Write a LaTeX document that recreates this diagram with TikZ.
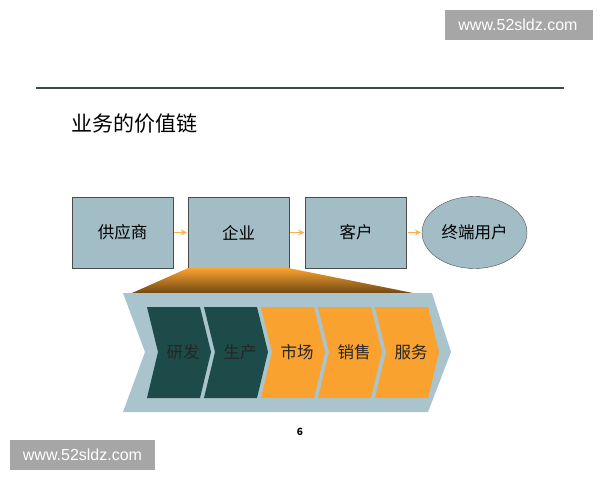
\documentclass[tikz,border=0pt]{standalone}
\usepackage{fontspec}
\setmainfont{Noto Sans CJK SC}
\newfontfamily\wmfont{Liberation Sans}
\usetikzlibrary{shapes.geometric}
\definecolor{boxblue}{HTML}{A3BDC7}
\definecolor{chevgray}{HTML}{A9C4CC}
\definecolor{darkteal}{HTML}{1C4B49}
\definecolor{chevorange}{HTML}{F9A22F}
\definecolor{rulegray}{HTML}{3B4A48}
\def\chevron[#1](#2,#3){\fill[#1] (#2,#3) -- ++(53,0) -- ++(11,45) -- ++(-11,46) -- ++(-53,0) -- ++(11,-46) -- cycle;}
\tikzset{
	chainbox/.style={draw=black!70, fill=boxblue, minimum width=101pt, minimum height=71pt, font=\fontsize{16.5}{16.5}\selectfont},
	chainarrow/.style={draw=chevorange!85!white, line width=1.6pt, -stealth, shorten <=1pt, shorten >=1pt},
	chevtext/.style={font=\fontsize{16.5}{16.5}\selectfont, text=black!85}
}

\begin{document}
\begin{tikzpicture}[x=1pt, y=-1pt]
				\useasboundingbox (0,0) rectangle (600,480);
				
				\fill[black!35] (445,10) rectangle (593,40);
				\node[text=white, font=\wmfont\fontsize{16}{16}\selectfont] (wmtop) at (518,25) {www.52sldz.com};
				
				\draw[rulegray, line width=1.5pt] (36,88) -- (564,88);
				\node[anchor=west, font=\fontsize{21}{21}\selectfont] (title) at (68,124) {业务的价值链};
				
				\node[chainbox] (supplier) at (122.5,232.5) {供应商};
				\node[chainbox] (firm) at (238.5,232.5) {企业};
				\node[chainbox] (customer) at (356,232.5) {客户};
				\node[chainbox, ellipse, minimum width=105pt, minimum height=72pt] (enduser) at (474.5,232.5) {终端用户};
				
				\draw[chainarrow] (supplier) -- (firm);
				\draw[chainarrow] (firm) -- (customer);
				\draw[chainarrow] (customer) -- (enduser);
				
				\shade[top color=chevorange, bottom color=chevorange!45!black] (firm.south west) -- (firm.south east) -- (413,293) -- (132,293) -- cycle;
				
				\fill[chevgray] (123,293) -- (432,293) -- (451,352) -- (428,412) -- (123,412) -- (145,352) -- cycle;
				
				\chevron[darkteal](147,307);
				\chevron[darkteal](204,307);
				\chevron[chevorange](261,307);
				\chevron[chevorange](318,307);
				\chevron[chevorange](375,307);
				
				\node[chevtext] (rnd) at (183,352) {研发};
				\node[chevtext] (prod) at (240,352) {生产};
				\node[chevtext] (mkt) at (297,352) {市场};
				\node[chevtext] (sales) at (354,352) {销售};
				\node[chevtext] (svc) at (411,352) {服务};
				
				\node[font=\bfseries\fontsize{10}{10}\selectfont] (page) at (300,432) {6};
				
				\fill[black!35] (10,440) rectangle (155,470);
				\node[text=white, font=\wmfont\fontsize{16}{16}\selectfont] (wmbottom) at (82.5,455) {www.52sldz.com};
			\end{tikzpicture}
\end{document}
